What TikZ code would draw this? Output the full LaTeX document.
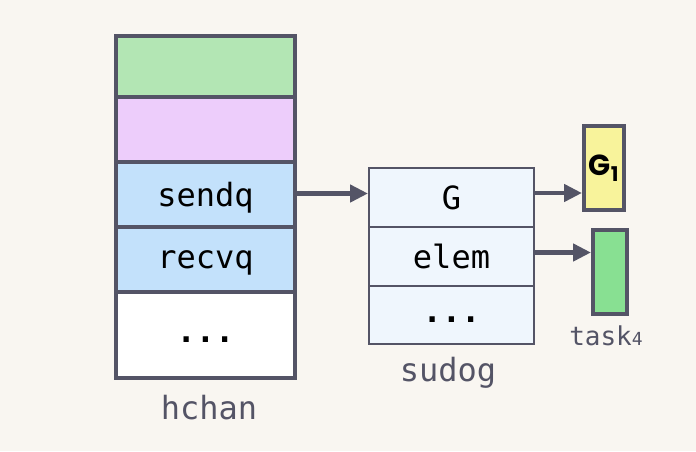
\documentclass[tikz,border=0pt]{standalone}
\usepackage{fontspec}
\setmonofont{DejaVu Sans Mono}
\newfontfamily\gfont{Poppins}
\usetikzlibrary{arrows.meta,calc}
\definecolor{paper}{HTML}{F9F6F1}
\definecolor{edge}{HTML}{545466}
\definecolor{cgreen}{HTML}{B3E6B4}
\definecolor{cpurple}{HTML}{EDCDFB}
\definecolor{cblue}{HTML}{C3E1FB}
\definecolor{csudog}{HTML}{EFF6FD}
\definecolor{cyellow}{HTML}{F8F39B}
\definecolor{ctask}{HTML}{88E092}

\begin{document}
\begin{tikzpicture}[x=1pt, y=-1pt, >={Triangle[length=18pt,width=17pt]},
    chanrow/.style={draw=edge, line width=4pt, minimum width=179pt, inner sep=0pt,
      text depth=0pt, font=\ttfamily\fontsize{32}{38}\selectfont},
    sudogrow/.style={draw=edge, fill=csudog, line width=2pt, minimum width=165pt,
      minimum height=59pt, inner sep=0pt, text depth=0pt,
      font=\ttfamily\fontsize{32}{38}\selectfont},
    dots/.style={text height=15pt, font=\ttfamily\bfseries\fontsize{32}{38}\selectfont},
    gbox/.style={draw=edge, line width=4pt, inner sep=0pt, minimum height=84pt},
    caption/.style={text=edge, font=\ttfamily\fontsize{32}{38}\selectfont},
    link/.style={->, draw=edge, line width=4.5pt}]

    % Background and page size
    \fill [paper] (0,0) rectangle (696,451);
    \useasboundingbox (0,0) rectangle (696,451);

    % First draw the hchan struct
    \node [chanrow, fill=cgreen, minimum height=61pt] (buf) at (205.5, 66.5) {};
    \node [chanrow, fill=cpurple, minimum height=65pt] (lock) at (205.5, 129.5) {};
    \node [chanrow, fill=cblue, minimum height=65pt] (sendq) at (205.5, 194.5) {sendq};
    \node [chanrow, fill=cblue, minimum height=65pt] (recvq) at (205.5, 259.5) {recvq};
    \node [chanrow, dots, fill=white, minimum height=86pt] (rest) at (205.5, 335) {...};
    \node [caption] (hchan) at (209, 408) {hchan};

    % Next, the sudog waiting on sendq
    \node [sudogrow] (sg) at (451.5, 197.5) {G};
    \node [sudogrow] (elem) at (451.5, 256.5) {elem};
    \node [sudogrow, dots, minimum height=58pt] (sgrest) at (451.5, 315) {...};
    \node [caption] (sudog) at (448, 373) {sudog};

    % The goroutine and the element it sends
    \node [gbox, fill=cyellow, minimum width=40pt,
      font=\gfont\bfseries\fontsize{29}{34}\selectfont] (g1) at (604, 168)
      {G\textsubscript{1}};
    \node [gbox, fill=ctask, minimum width=34pt] (task) at (610, 272) {};
    \node [caption, font=\ttfamily\fontsize{26}{30}\selectfont] (tasklbl) at (606, 336)
      {task{\fontsize{18}{20}\selectfont 4}};

    % Pointers
    \draw [link] ($(sendq.east)+(0,-1)$) -- ($(sendq.east -| sg.west)+(0,-1)$);
    \draw [link] ($(sg.east)+(0,-4.5)$) -- ($(sg.east -| g1.west)+(0,-4.5)$);
    \draw [link] ($(elem.east)+(0,-4)$) -- ($(elem.east -| task.west)+(0,-4)$);
  \end{tikzpicture}
\end{document}
